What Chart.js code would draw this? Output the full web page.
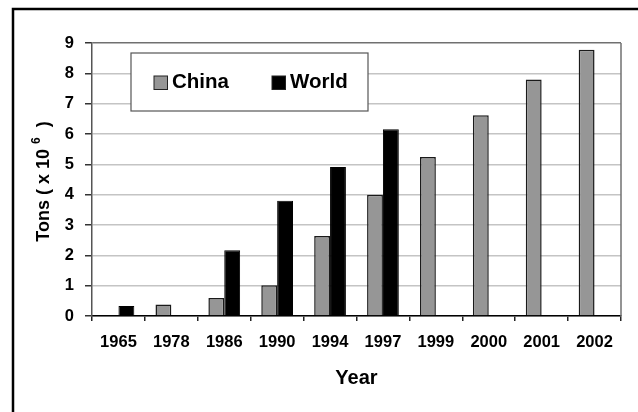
<!DOCTYPE html>
<html>
<head>
    <meta charset="UTF-8">
    <title>China and World</title>
    <script src="https://cdn.jsdelivr.net/npm/chart.js@4.4.1/dist/chart.umd.min.js"></script>
    <style>
        html, body { margin: 0; padding: 0; background: #fff; overflow: hidden; }
        #wrap { width: 638px; height: 412px; position: relative; }
    </style>
</head>
<body>
    <div id="wrap"><canvas id="bar-chart"></canvas></div>
<script>
    var years = ['1965', '1978', '1986', '1990', '1994', '1997', '1999', '2000', '2001', '2002'];
    var china = [null, 0.38, 0.59, 1.01, 2.64, 4.0, 5.24, 6.62, 7.8, 8.78];
    var world = [0.33, null, 2.17, 3.8, 4.91, 6.16, null, null, null, null];
    var yTicks = [0, 1, 2, 3, 4, 5, 6, 7, 8, 9];

    var fontName = '"Liberation Sans", Arial, sans-serif';
    Chart.defaults.font.family = fontName;
    Chart.defaults.color = '#000';

    // frame, plot border, axis titles and the legend box
    var extras = {
        id: 'extras',
        afterDraw: function (chart) {
            var ctx = chart.ctx;
            var a = chart.chartArea;
            ctx.save();

            ctx.strokeStyle = '#000';
            ctx.lineWidth = 2.5;
            ctx.beginPath();
            ctx.moveTo(13, 414);
            ctx.lineTo(13, 9);
            ctx.lineTo(645, 9);
            ctx.stroke();

            ctx.strokeStyle = '#707070';
            ctx.lineWidth = 1.5;
            ctx.beginPath();
            ctx.moveTo(a.right, a.top);
            ctx.lineTo(a.right, a.bottom);
            ctx.stroke();

            ctx.fillStyle = '#000';
            ctx.textAlign = 'center';
            ctx.textBaseline = 'middle';
            ctx.font = 'bold 20px ' + fontName;
            ctx.fillText('Year', (a.left + a.right) / 2, 378);

            // y title with superscript
            ctx.save();
            ctx.translate(44, (a.top + a.bottom) / 2 + 2);
            ctx.rotate(-Math.PI / 2);
            var big = 'bold 18px ' + fontName;
            var small = 'bold 12px ' + fontName;
            var p1 = 'Tons ( x 10 ', p2 = '6', p3 = '  )';
            ctx.font = big;
            var w1 = ctx.measureText(p1).width, w3 = ctx.measureText(p3).width;
            ctx.font = small;
            var w2 = ctx.measureText(p2).width;
            var x = -(w1 + w2 + w3) / 2;
            ctx.textAlign = 'left';
            ctx.font = big;
            ctx.fillText(p1, x, 0);
            ctx.font = small;
            ctx.fillText(p2, x + w1, -7);
            ctx.font = big;
            ctx.fillText(p3, x + w1 + w2, 0);
            ctx.restore();

            // legend
            ctx.fillStyle = '#fff';
            ctx.fillRect(131, 53, 237, 58);
            ctx.strokeStyle = '#555';
            ctx.lineWidth = 1.2;
            ctx.strokeRect(131, 53, 237, 58);
            var items = [{ x: 154, tx: 172 }, { x: 272, tx: 290 }];
            ctx.font = 'bold 20.5px ' + fontName;
            ctx.textAlign = 'left';
            chart.data.datasets.forEach(function (ds, i) {
                var it = items[i];
                ctx.fillStyle = ds.backgroundColor;
                ctx.fillRect(it.x, 76, 13.5, 13.5);
                ctx.strokeStyle = '#222';
                ctx.lineWidth = 1;
                ctx.strokeRect(it.x, 76, 13.5, 13.5);
                ctx.fillStyle = '#000';
                ctx.fillText(ds.label, it.tx, 82);
            });
            ctx.restore();
        }
    };

    var chart = new Chart(document.getElementById('bar-chart'), {
        type: 'bar',
        data: {
            labels: years,
            datasets: [{
                label: 'China',
                data: china,
                backgroundColor: '#969696',
                borderColor: '#1a1a1a',
                borderWidth: 1.5,
                borderSkipped: 'bottom'
            }, {
                label: 'World',
                data: world,
                backgroundColor: '#000000',
                borderColor: '#000000',
                borderWidth: 1,
                borderSkipped: 'bottom'
            }]
        },
        options: {
            responsive: true,
            maintainAspectRatio: false,
            animation: false,
            layout: { padding: { left: 0, top: 43, right: 17, bottom: 0 } },
            plugins: {
                legend: { display: false },
                tooltip: { enabled: false }
            },
            datasets: { bar: { categoryPercentage: 0.6, barPercentage: 1.0 } },
            scales: {
                x: {
                    grid: { drawOnChartArea: false, tickLength: 5, tickColor: '#222', lineWidth: 1.5 },
                    border: { color: '#000', width: 1.5 },
                    ticks: { padding: 12, font: { size: 16.5, weight: 'bold' } },
                    afterFit: function (s) { s.height = 96; }
                },
                y: {
                    min: 0,
                    max: 9,
                    afterBuildTicks: function (s) { s.ticks = yTicks.map(function (v) { return { value: v }; }); },
                    grid: {
                        color: function (c) { return c.tick && c.tick.value === 9 ? '#707070' : '#c4c4c4'; },
                        lineWidth: 1.5,
                        tickLength: 7,
                        tickColor: '#333'
                    },
                    border: { color: '#555', width: 1.5 },
                    ticks: { padding: 11, font: { size: 16.5, weight: 'bold' } },
                    afterFit: function (s) { s.width = 92; }
                }
            }
        },
        plugins: [extras]
    });
</script>
</body>
</html>
